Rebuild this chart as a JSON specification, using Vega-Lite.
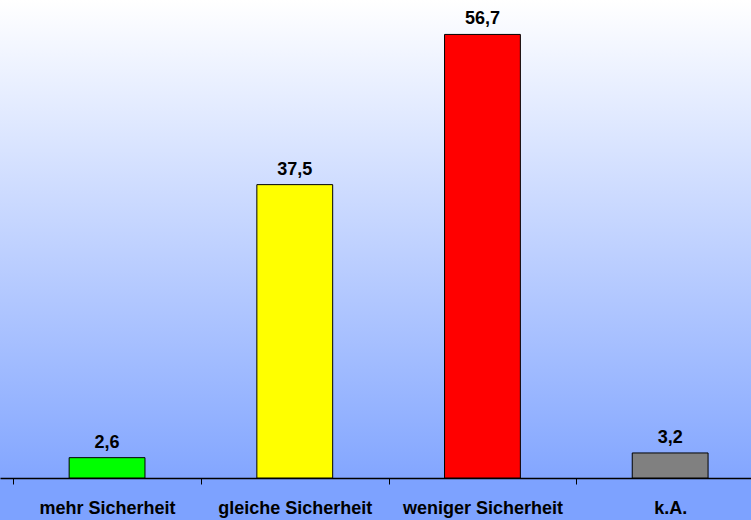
{
  "$schema": "https://vega.github.io/schema/vega-lite/v6.json",
  "width": 764,
  "height": 478,
  "autosize": {"type": "none"},
  "padding": {"left": 0, "top": 0, "right": 0, "bottom": 42},
  "background": "#7da2ff",
  "config": {
    "view": {
      "stroke": null,
      "fill": {
        "gradient": "linear",
        "x1": 0, "y1": 0, "x2": 0, "y2": 1,
        "stops": [
          {"offset": 0, "color": "#ffffff"},
          {"offset": 1, "color": "#83a6ff"}
        ]
      }
    },
    "font": "Liberation Sans"
  },
  "data": {
    "values": [
      {"kategorie": "mehr Sicherheit", "wert": 2.6, "label": "2,6", "farbe": "#00ff00"},
      {"kategorie": "gleiche Sicherheit", "wert": 37.5, "label": "37,5", "farbe": "#ffff00"},
      {"kategorie": "weniger Sicherheit", "wert": 56.7, "label": "56,7", "farbe": "#ff0000"},
      {"kategorie": "k.A.", "wert": 3.2, "label": "3,2", "farbe": "#808080"}
    ]
  },
  "encoding": {
    "x": {
      "field": "kategorie",
      "type": "nominal",
      "sort": null,
      "scale": {"paddingInner": 0, "paddingOuter": 0.0352, "align": 1},
      "axis": {
        "title": null,
        "labelAngle": 0,
        "labelFont": "Liberation Sans",
        "labelFontSize": 18,
        "labelFontWeight": "bold",
        "labelColor": "#000000",
        "labelPadding": 15,
        "labelBaseline": "top",
        "tickBand": "extent",
        "tickSize": 6,
        "tickColor": "#000000",
        "tickWidth": 1,
        "domainColor": "#000000",
        "domainWidth": 1.5,
        "grid": false
      }
    },
    "y": {
      "field": "wert",
      "type": "quantitative",
      "scale": {"domain": [0, 61.1], "nice": false, "zero": true},
      "axis": null
    }
  },
  "layer": [
    {
      "mark": {"type": "bar", "width": {"band": 0.404}, "stroke": "#000000", "strokeWidth": 1},
      "encoding": {
        "color": {"field": "farbe", "type": "nominal", "scale": null, "legend": null}
      }
    },
    {
      "mark": {
        "type": "text",
        "baseline": "alphabetic",
        "dy": -10,
        "fontSize": 18,
        "fontWeight": "bold",
        "font": "Liberation Sans",
        "color": "#000000"
      },
      "encoding": {
        "text": {"field": "label", "type": "nominal"}
      }
    }
  ]
}
